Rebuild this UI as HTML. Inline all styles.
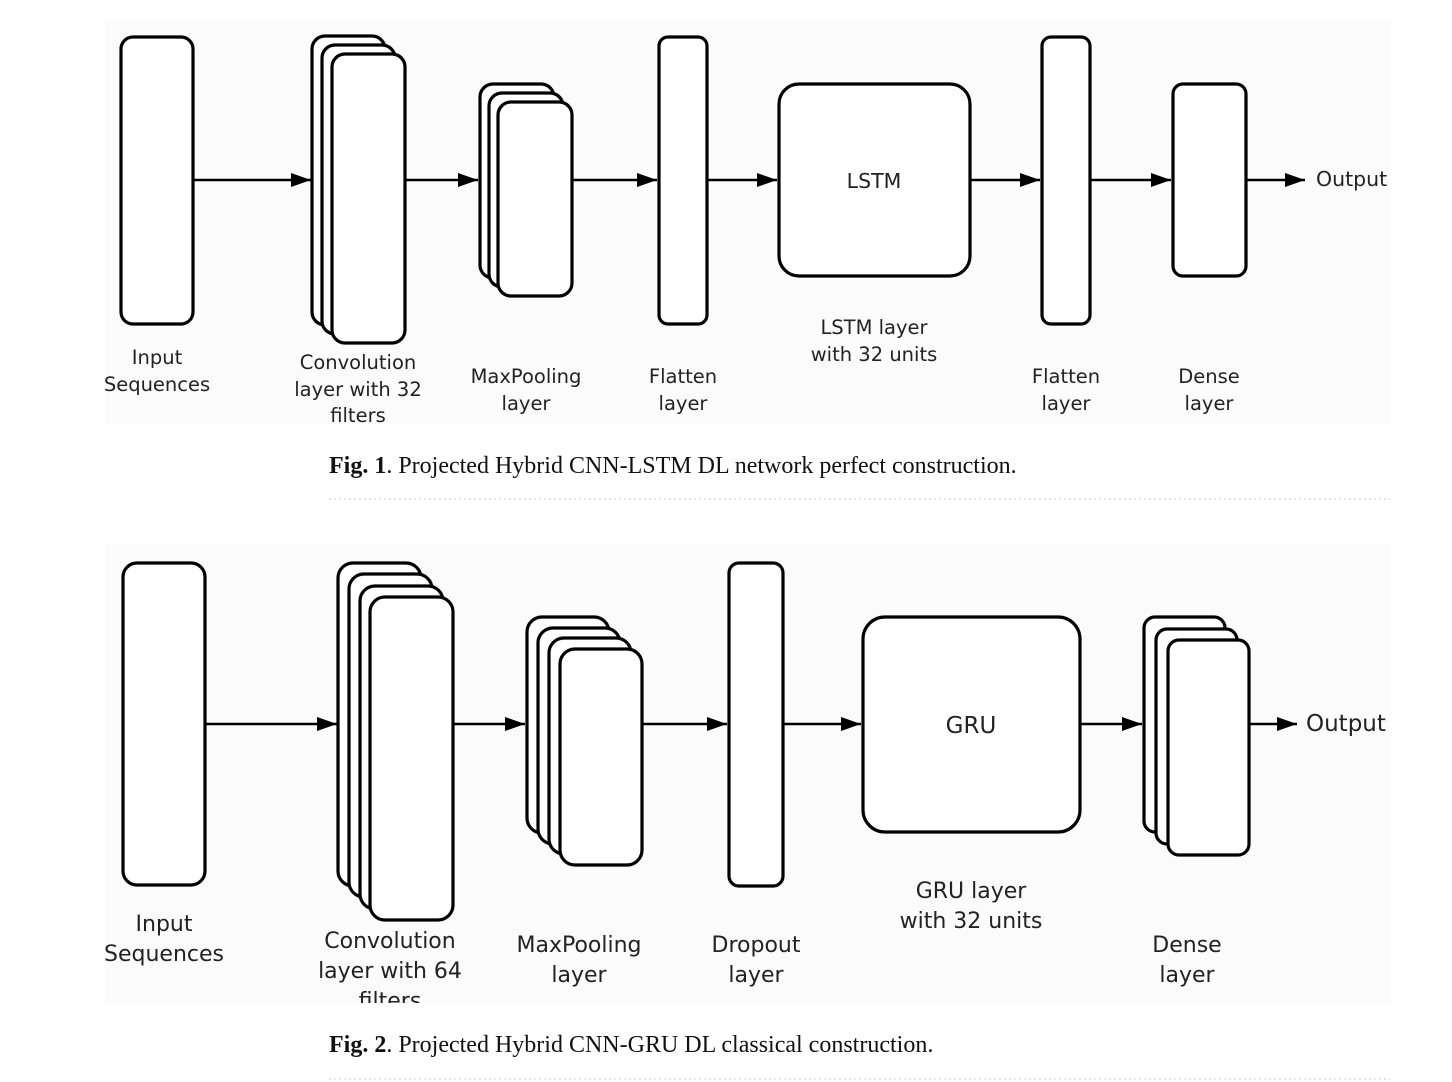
<!DOCTYPE html>
<html><head><meta charset="utf-8"><style>
html,body{margin:0;padding:0;background:#fff;}
svg{display:block;}
.s{fill:#fff;stroke:#000;stroke-width:3.2;}
.l{font-family:"DejaVu Sans","Liberation Sans",sans-serif;fill:#222;text-anchor:middle;}
.c{font-family:"Liberation Serif",serif;font-size:24px;fill:#111;}
</style></head><body>
<svg width="1452" height="1082" viewBox="0 0 1452 1082" xmlns="http://www.w3.org/2000/svg">
<defs>
<marker id="b" viewBox="0 0 20 14" markerWidth="20" markerHeight="14" refX="20" refY="7" orient="auto" markerUnits="userSpaceOnUse"><path d="M0,0 L20,7 L0,14 Z"/></marker></defs>
<rect x="105" y="20" width="1285" height="405" fill="#fbfbfb"/>
<rect x="105" y="545" width="1285" height="458" fill="#fbfbfb"/>
<g stroke="#000" stroke-width="2.5" marker-end="url(#b)">
<line x1="193" y1="180" x2="311" y2="180"/><line x1="405" y1="180" x2="478" y2="180"/><line x1="572" y1="180" x2="657" y2="180"/><line x1="707" y1="180" x2="777" y2="180"/><line x1="970" y1="180" x2="1040" y2="180"/><line x1="1090" y1="180" x2="1171" y2="180"/><line x1="1246" y1="180" x2="1305" y2="180"/>
<line x1="205" y1="724" x2="337" y2="724"/><line x1="453" y1="724" x2="525" y2="724"/><line x1="642" y1="724" x2="727" y2="724"/><line x1="783" y1="724" x2="861" y2="724"/><line x1="1080" y1="724" x2="1142" y2="724"/><line x1="1249" y1="724" x2="1297" y2="724"/>
</g>
<!-- fig1 -->
<rect class="s" x="121" y="37" width="72" height="287" rx="12"/>
<rect class="s" x="312" y="36" width="73" height="289" rx="13"/>
<rect class="s" x="322" y="45" width="73" height="289" rx="13"/>
<rect class="s" x="332" y="54" width="73" height="289" rx="13"/>
<rect class="s" x="480" y="84" width="74" height="194" rx="13"/>
<rect class="s" x="489" y="93" width="74" height="194" rx="13"/>
<rect class="s" x="498" y="102" width="74" height="194" rx="13"/>
<rect class="s" x="659" y="37" width="48" height="287" rx="9"/>
<rect class="s" x="779" y="84" width="191" height="192" rx="20"/>
<rect class="s" x="1042" y="37" width="48" height="287" rx="9"/>
<rect class="s" x="1173" y="84" width="73" height="192" rx="10"/>
<text class="l" x="874" y="188" font-size="20.5">LSTM</text>
<text x="1316" y="186" font-size="20.5" class="l" style="text-anchor:start">Output</text>
<g class="l" font-size="19.5">
<text x="157" y="364">Input</text><text x="157" y="391">Sequences</text>
<text x="358" y="369">Convolution</text><text x="358" y="396">layer with 32</text><text x="358" y="422">filters</text>
<text x="526" y="383">MaxPooling</text><text x="526" y="410">layer</text>
<text x="683" y="383">Flatten</text><text x="683" y="410">layer</text>
<text x="874" y="334">LSTM layer</text><text x="874" y="361">with 32 units</text>
<text x="1066" y="383">Flatten</text><text x="1066" y="410">layer</text>
<text x="1209" y="383">Dense</text><text x="1209" y="410">layer</text>
</g>
<text class="c" x="329" y="473"><tspan font-weight="bold">Fig. 1</tspan>.  Projected Hybrid CNN-LSTM DL network perfect construction.</text>
<line x1="329" y1="499" x2="1390" y2="499" stroke="#ccc" stroke-width="1" stroke-dasharray="2,3"/>
<!-- fig2 -->
<rect class="s" x="123" y="563" width="82" height="322" rx="14"/>
<rect class="s" x="338" y="563" width="83" height="323" rx="15"/>
<rect class="s" x="349" y="574" width="83" height="323" rx="15"/>
<rect class="s" x="360" y="586" width="83" height="323" rx="15"/>
<rect class="s" x="370" y="597" width="83" height="323" rx="15"/>
<rect class="s" x="527" y="617" width="82" height="216" rx="15"/>
<rect class="s" x="538" y="628" width="82" height="216" rx="15"/>
<rect class="s" x="549" y="638" width="82" height="216" rx="15"/>
<rect class="s" x="560" y="649" width="82" height="216" rx="15"/>
<rect class="s" x="729" y="563" width="54" height="323" rx="10"/>
<rect class="s" x="863" y="617" width="217" height="215" rx="22"/>
<rect class="s" x="1144" y="617" width="81" height="215" rx="11"/>
<rect class="s" x="1156" y="629" width="81" height="215" rx="11"/>
<rect class="s" x="1168" y="640" width="81" height="215" rx="11"/>
<text class="l" x="971" y="733" font-size="23">GRU</text>
<text x="1306" y="731" font-size="23" class="l" style="text-anchor:start">Output</text>
<g class="l" font-size="22">
<text x="164" y="931">Input</text><text x="164" y="961">Sequences</text>
<text x="390" y="948">Convolution</text><text x="390" y="978">layer with 64</text><text x="390" y="1008">filters</text>
<text x="579" y="952">MaxPooling</text><text x="579" y="982">layer</text>
<text x="756" y="952">Dropout</text><text x="756" y="982">layer</text>
<text x="971" y="898">GRU layer</text><text x="971" y="928">with 32 units</text>
<text x="1187" y="952">Dense</text><text x="1187" y="982">layer</text>
</g>
<rect x="105" y="1003" width="1285" height="20" fill="#fff"/>
<text class="c" x="329" y="1052"><tspan font-weight="bold">Fig. 2</tspan>.  Projected Hybrid CNN-GRU DL classical construction.</text>
<line x1="329" y1="1079" x2="1390" y2="1079" stroke="#ccc" stroke-width="1" stroke-dasharray="2,3"/>
</svg>
</body></html>
